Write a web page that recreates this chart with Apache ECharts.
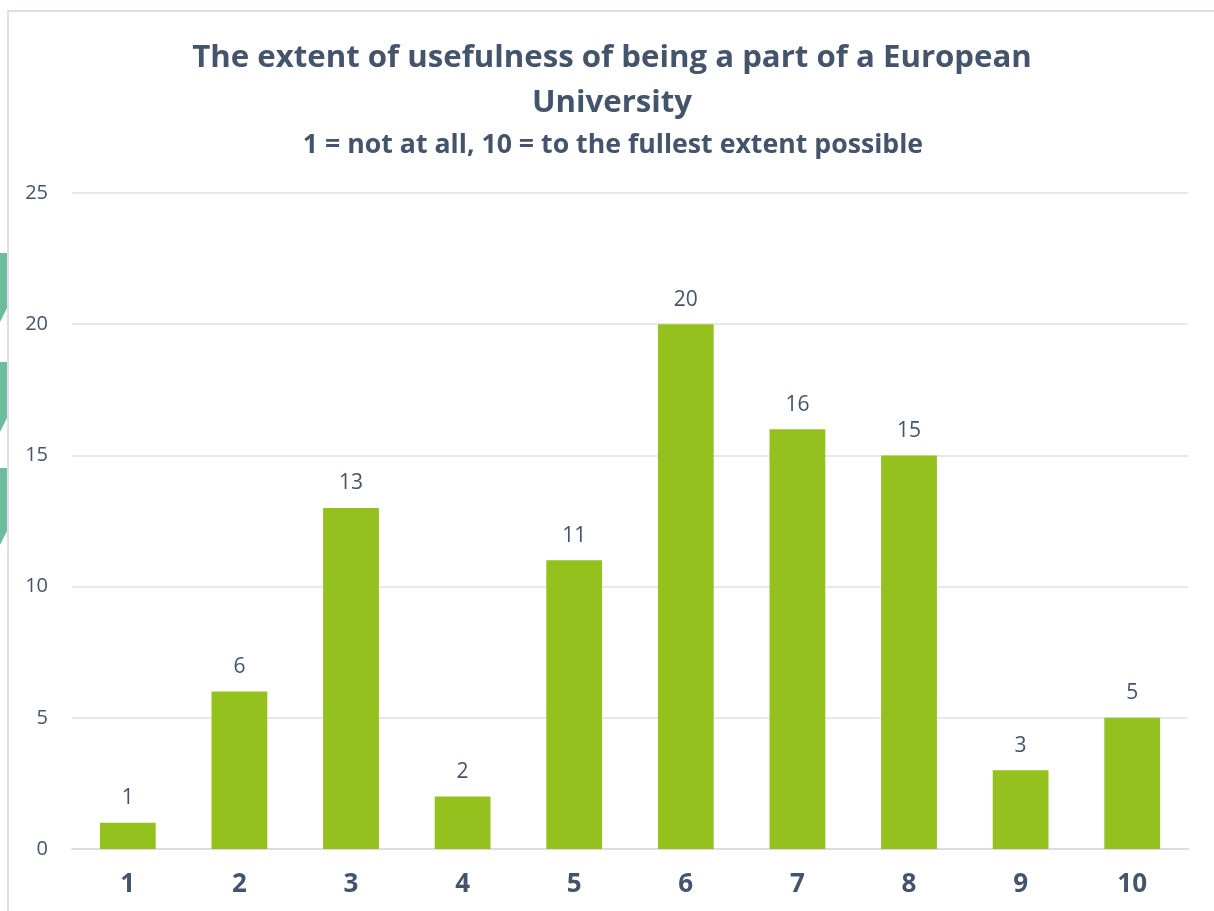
<!DOCTYPE html>
<html>
<head>
<meta charset="utf-8">
<style>
  html, body { margin: 0; padding: 0; background: #ffffff; }
  #chart { width: 1214px; height: 911px; }
</style>
<script src="https://cdn.jsdelivr.net/npm/echarts@6/dist/echarts.min.js"></script>
</head>
<body>
<div id="chart"></div>
<script>
// Scale points on the x axis
const categories = ['1', '2', '3', '4', '5', '6', '7', '8', '9', '10'];
// Number of responses for each scale point
const responses = [1, 6, 13, 2, 11, 20, 16, 15, 3, 5];
// Value axis ticks
const yTicks = [0, 5, 10, 15, 20, 25];

const titleText = 'The extent of usefulness of being a part of a European\nUniversity';
const subtitleText = '1 = not at all, 10 = to the fullest extent possible';

const FONT = '"Open Sans", "Noto Sans", sans-serif';
const INK = '#44546A';

const chart = echarts.init(document.getElementById('chart'), null, { renderer: 'canvas' });

// Teal tabs peeking in at the left edge of the page
function tab(top, bottom) {
  return {
    type: 'polygon',
    shape: { points: [[0, top], [7, top], [7, bottom - 14], [0, bottom]] },
    style: { fill: '#6DBC9C' },
    silent: true
  };
}

chart.setOption({
  animation: false,
  backgroundColor: '#ffffff',
  textStyle: { fontFamily: FONT },
  title: [
    {
      text: titleText,
      left: 607,
      top: 31,
      textAlign: 'center',
      textStyle: {
        fontFamily: FONT, fontWeight: 'bold', fontSize: 31.2,
        lineHeight: 45, color: INK, align: 'center'
      }
    },
    {
      text: subtitleText,
      left: 608,
      top: 127,
      textAlign: 'center',
      textStyle: {
        fontFamily: FONT, fontWeight: 'bold', fontSize: 26.7, color: INK
      }
    }
  ],
  graphic: [
    {
      type: 'rect',
      shape: { x: 8, y: 11, width: 1240, height: 940 },
      style: { fill: 'none', stroke: '#DCE0E8', lineWidth: 2 },
      silent: true, z: -1
    },
    tab(253, 322),
    tab(362, 432),
    tab(468, 545)
  ],
  grid: { left: 72, right: 26, top: 193, bottom: 62, containLabel: false },
  xAxis: {
    type: 'category',
    data: categories,
    axisTick: { show: false },
    axisLine: { lineStyle: { color: '#D9DDE5', width: 2 } },
    axisLabel: {
      margin: 23, fontFamily: FONT, fontWeight: 'bold', fontSize: 26, color: INK
    }
  },
  yAxis: {
    type: 'value',
    min: yTicks[0],
    max: yTicks[yTicks.length - 1],
    interval: yTicks[1] - yTicks[0],
    axisLine: { show: false },
    axisTick: { show: false },
    splitLine: { lineStyle: { color: '#DDE1E8', width: 1.5 } },
    axisLabel: { margin: 24, fontFamily: FONT, fontSize: 20, color: INK }
  },
  series: [{
    type: 'bar',
    data: responses,
    barWidth: '50%',
    itemStyle: { color: '#95C11F' },
    label: {
      show: true, position: 'top', distance: 14,
      fontFamily: FONT, fontSize: 21, color: INK
    }
  }]
});
</script>
</body>
</html>
